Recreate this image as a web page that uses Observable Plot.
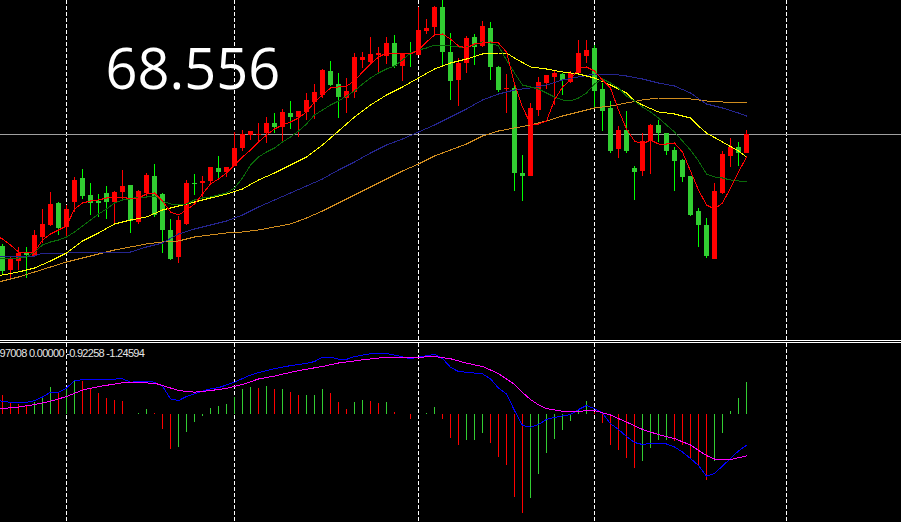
<!DOCTYPE html>
<html><head><meta charset="utf-8">
<script src="https://cdn.jsdelivr.net/npm/d3@7"></script>
<script src="https://cdn.jsdelivr.net/npm/@observablehq/plot@0.6"></script>
<style>
html,body{margin:0;padding:0;background:#000;overflow:hidden;}
#wrap{width:901px;height:522px;overflow:hidden;background:#000;}
.sep{height:1px;background:#000;border-top:1px solid #fff;border-bottom:1px solid #fff;}
.macd text{letter-spacing:-0.7px;}
svg{display:block;}
</style></head><body><div id="wrap"></div>
<script>
// ---- price candles (one per bar, index 0..93) ----
const open = [57.4,55.0,55.9,56.8,56.4,58.3,59.5,61.7,59.3,61.8, 64.2,62.5,61.9,62.7,61.8,62.8,63.5,59.8,62.7,64.4,
  62.6,59.0,56.3,59.6,63.7,63.7,63.9,65.2,64.8,65.4, 67.2,68.5,68.5,68.7,69.7,69.3,70.7,70.3,70.8,71.8,
  72.5,74.9,73.6,72.2,72.8,76.0,75.8,76.5,76.4,77.7, 75.4,76.7,76.5,78.9,79.3,81.3,76.8,74.0,75.7,78.3,
  77.4,79.2,75.3,73.1,73.2,64.7,64.4,71.0,73.7,74.3, 74.6,73.8,74.7,76.4,77.2,73.1,71.2,67.1,69.0,65.2,
  64.9,67.9,69.5,68.7,67.0,66.0,64.4,60.9,59.5,56.1, 62.7,66.4,67.3,66.7];
const close = [54.9,56.1,56.7,56.5,58.5,59.6,61.6,59.2,61.1,64.0, 62.4,61.7,61.7,61.8,62.8,63.4,59.9,62.9,64.5,60.5,
  59.0,56.1,60.0,63.7,63.6,63.9,65.3,64.8,65.3,67.2, 68.6,68.9,68.6,69.7,69.3,70.8,70.3,70.9,72.0,72.8,
  75.0,73.5,72.3,72.9,76.3,76.3,76.6,76.7,77.7,75.4, 76.6,76.6,79.0,79.2,81.3,76.8,73.9,75.7,78.2,77.3,
  79.4,75.3,73.0,73.2,64.7,64.4,71.2,73.8,74.5,74.7, 74.0,74.7,76.7,77.0,72.9,70.9,66.9,69.0,66.9,64.8,
  67.9,69.5,68.7,66.9,65.9,64.3,60.5,59.5,56.4,62.9, 66.6,67.3,66.7,68.55];
const high = [57.6,56.4,57.3,57.3,59.0,61.1,62.8,61.8,61.5,64.3, 65.1,63.7,62.6,63.4,62.9,65.0,63.5,63.0,64.7,65.6,
  62.7,60.1,60.4,64.0,64.6,64.4,65.3,66.4,65.3,68.8, 69.0,68.9,69.7,70.3,70.7,71.1,71.9,70.9,72.7,73.6,
  75.1,75.9,74.7,74.2,76.7,76.8,78.3,77.3,78.3,78.5, 76.7,77.8,81.3,80.1,81.4,82.0,78.7,76.2,78.4,78.6,
  79.9,79.8,75.4,74.6,73.4,66.5,71.7,74.3,74.5,74.9, 74.7,74.9,78.0,78.0,77.5,73.7,71.9,69.4,70.9,65.4,
  68.7,69.6,70.0,68.7,67.3,66.1,64.4,61.2,60.2,63.7, 66.9,68.2,67.8,69.0];
const low = [54.5,54.1,55.0,54.2,56.3,57.7,59.4,58.5,58.3,60.8, 62.1,60.5,60.3,60.1,59.6,62.0,58.7,59.6,62.2,60.3,
  56.7,56.0,55.7,59.5,62.5,62.3,63.5,64.0,64.3,65.4, 66.9,68.0,67.9,67.7,68.7,67.9,69.1,68.3,70.0,70.1,
  72.2,73.4,70.2,70.7,72.2,75.2,75.7,74.7,75.6,75.2, 73.9,75.3,76.5,78.6,78.6,75.4,72.0,71.4,74.7,75.5,
  77.3,74.0,72.8,70.7,62.9,61.9,64.4,70.4,73.1,71.5, 72.5,73.7,74.6,75.7,71.3,68.9,66.7,66.2,66.7,62.0,
  64.4,64.6,67.8,66.5,62.9,63.8,60.4,57.3,56.2,56.1, 62.6,65.3,65.4,66.7];

// ---- moving averages [bar index, value] ----
const maRed = [[-1,58.5],[0,58.1],[1,57.5],[2,56.8],[3,56.7],[4,56.8],[5,58.0],[6,58.6],[7,59.0],[8,59.4],[9,61.1],[10,61.7],[11,61.9],[12,62.0],[13,62.2],[14,62.3],[15,62.3],[16,62.1],[17,62.2],[18,62.6],[19,62.7],[20,61.9],[21,60.8],[22,60.5],[23,61.0],[24,61.6],[25,62.6],[26,63.6],[27,64.1],[28,64.7],[29,65.5],[30,66.3],[31,67.0],[32,67.8],[33,68.5],[34,69.1],[35,69.5],[36,69.8],[37,70.2],[38,70.8],[39,71.8],[40,72.5],[41,73.2],[42,73.3],[43,73.4],[44,73.9],[45,74.8],[46,75.6],[47,76.3],[48,76.7],[49,76.7],[50,76.7],[51,76.6],[52,77.0],[53,77.8],[54,78.5],[55,78.6],[56,78.1],[57,77.4],[58,77.2],[59,77.6],[60,77.7],[61,77.8],[62,77.7],[63,76.8],[64,73.6],[65,71.3],[66,69.6],[67,69.6],[68,69.9],[69,72.0],[70,73.3],[71,74.0],[72,75.2],[73,75.3],[74,74.9],[75,74.0],[76,73.2],[77,71.0],[78,69.1],[79,67.9],[80,67.6],[81,68.0],[82,67.6],[83,67.6],[84,67.7],[85,66.8],[86,64.9],[87,63.0],[88,61.5],[89,61.1],[90,61.7],[91,63.2],[92,64.8],[93,66.3]];
const maGreen = [[-1,56.2],[0,56.2],[1,56.2],[2,56.2],[3,56.3],[4,56.8],[5,57.5],[6,57.8],[7,58.0],[8,58.3],[9,58.8],[10,59.4],[11,60.0],[12,60.6],[13,61.1],[14,61.7],[15,62.0],[16,62.1],[17,62.3],[18,62.3],[19,62.4],[20,61.9],[21,61.6],[22,61.5],[23,61.6],[24,62.0],[25,62.2],[26,62.3],[27,62.5],[28,62.7],[29,63.2],[30,64.2],[31,65.5],[32,66.3],[33,66.8],[34,67.2],[35,67.8],[36,68.3],[37,68.9],[38,69.6],[39,70.5],[40,71.0],[41,71.5],[42,71.9],[43,72.4],[44,72.9],[45,73.6],[46,74.2],[47,74.7],[48,75.1],[49,75.4],[50,76.0],[51,76.7],[52,77.0],[53,77.2],[54,77.5],[55,77.5],[56,77.4],[57,77.3],[58,77.3],[59,77.5],[60,77.8],[61,77.7],[62,77.4],[63,76.0],[64,74.7],[65,73.5],[66,73.3],[67,73.1],[68,72.7],[69,72.3],[70,72.0],[71,71.9],[72,72.2],[73,72.7],[74,73.6],[75,74.1],[76,73.7],[77,73.2],[78,72.4],[79,71.9],[80,71.3],[81,70.8],[82,70.2],[83,69.5],[84,68.8],[85,67.9],[86,67.0],[87,65.9],[88,64.6],[89,64.3],[90,64.2],[91,64.0],[92,63.9],[93,63.8]];
const maYellow = [[-1,54.4],[0,54.5],[2,54.8],[4,55.2],[6,55.9],[8,56.7],[10,57.9],[12,58.7],[14,59.6],[16,60.0],[18,60.3],[20,61.0],[22,61.4],[24,61.8],[26,62.2],[28,62.6],[30,63.1],[32,64.0],[34,64.7],[36,65.5],[38,66.3],[40,67.5],[42,68.9],[44,70.3],[46,71.5],[48,72.5],[50,73.3],[52,74.2],[54,75.1],[56,75.7],[58,76.1],[60,76.6],[62,76.7],[63,76.7],[64,76.2],[66,75.3],[68,75.1],[70,74.8],[72,74.6],[74,74.2],[76,73.5],[78,72.7],[79,71.9],[80,71.5],[82,70.8],[84,70.6],[86,70.2],[87,69.4],[88,68.7],[90,67.8],[92,66.9],[93,66.3]];
const maNavy = [[-1,56.4],[0,56.4],[4,56.4],[5,56.7],[8,56.7],[12,56.8],[16,56.8],[18,57.3],[20,57.7],[22,58.6],[24,59.1],[26,59.5],[28,59.9],[30,60.5],[32,61.3],[34,62.0],[36,62.7],[38,63.4],[40,64.1],[42,65.0],[44,65.8],[46,66.7],[48,67.5],[50,68.1],[52,68.8],[54,69.5],[56,70.3],[58,71.1],[60,72.0],[62,72.6],[64,73.0],[66,73.2],[68,73.5],[70,74.0],[72,74.3],[74,74.6],[76,74.6],[78,74.4],[80,74.1],[82,73.7],[84,73.4],[86,72.7],[88,71.6],[90,71.2],[92,70.7],[93,70.4]];
const maOrange = [[-1,53.6],[0,53.9],[2,54.3],[4,54.8],[6,55.3],[8,55.8],[10,56.2],[12,56.6],[14,57.0],[16,57.3],[18,57.6],[20,57.8],[22,57.9],[24,58.3],[26,58.5],[28,58.7],[30,58.8],[32,59.0],[34,59.3],[36,59.6],[38,60.2],[40,60.9],[42,61.7],[44,62.5],[46,63.3],[48,64.1],[50,64.9],[52,65.6],[54,66.4],[56,67.0],[58,67.6],[60,68.4],[62,68.9],[64,69.2],[66,69.5],[68,69.9],[70,70.4],[72,70.8],[74,71.2],[76,71.4],[78,71.7],[80,72.0],[82,72.2],[84,72.2],[86,72.1],[88,71.9],[90,71.8],[93,71.8]];

// ---- MACD panel ----
const hist = [0.585,0.355,0.31,0.28,0.385,0.535,0.84,0.69,0.79,1.04, 1.02,0.79,0.635,0.485,0.435,0.405,0.0,0.03,0.16,0.05,
  -0.445,-1.05,-1.0,-0.525,-0.225,-0.05,0.18,0.25,0.31,0.535, 0.765,0.82,0.81,0.86,0.765,0.77,0.685,0.585,0.59,0.595,
  0.765,0.645,0.38,0.16,0.38,0.435,0.405,0.34,0.375,0.07, 0.02,-0.135,0.02,0.025,0.22,-0.135,-0.71,-0.93,-0.78,-0.775,
  -0.56,-0.86,-1.285,-1.535,-2.5,-3.0,-2.525,-1.81,-1.165,-0.74, -0.475,-0.195,0.13,0.405,0.08,-0.255,-0.93,-1.08,-1.315,-1.62,
  -1.405,-1.01,-0.78,-0.775,-0.81,-0.93,-1.335,-1.565,-1.99,-1.405, -0.56,0.10,0.485,0.97008];
const histUp = [0,0,0,0,1,1,1,0,1,1, 0,0,0,0,0,0,0,1,1,0, 0,0,1,1,1,1,1,1,1,1, 1,1,0,1,0,1,0,0,1,1,
  1,0,0,0,1,1,0,0,1,0, 0,0,1,1,1,0,0,0,1,1, 1,0,0,0,0,0,1,1,1,1, 1,1,1,1,0,0,0,0,0,0, 1,1,1,1,0,0,0,0,0,1, 1,1,1,1];
const macdLine = [[-1,0.45],[0,0.41],[1,0.38],[3,0.38],[4,0.43],[5,0.54],[6,0.685],[7,0.685],[8,0.81],[9,1.04],[10,1.06],[15,1.09],[16,0.99],[18,1.02],[19,0.99],[20,0.87],[21,0.485],[22,0.43],[23,0.555],[24,0.635],[26,0.79],[27,0.82],[29,0.99],[31,1.205],[32,1.28],[34,1.40],[36,1.49],[37,1.525],[38,1.555],[39,1.615],[40,1.745],[41,1.745],[42,1.69],[43,1.68],[44,1.765],[46,1.85],[48,1.86],[49,1.81],[51,1.70],[52,1.75],[54,1.83],[55,1.705],[56,1.44],[57,1.31],[58,1.29],[60,1.24],[61,1.09],[62,0.81],[63,0.635],[64,0.13],[65,-0.325],[66,-0.375],[67,-0.295],[68,-0.14],[69,-0.08],[70,-0.035],[71,0.01],[72,0.16],[73,0.28],[74,0.19],[75,0.055],[76,-0.27],[77,-0.445],[78,-0.66],[79,-0.84],[80,-0.90],[81,-0.87],[83,-0.885],[84,-0.975],[85,-1.13],[86,-1.325],[87,-1.535],[88,-1.86],[89,-1.78],[90,-1.55],[91,-1.325],[92,-1.095],[93,-0.92258]];
const signalLine = [[-1,0.17],[0,0.19],[2,0.235],[4,0.31],[6,0.41],[8,0.555],[10,0.75],[12,0.855],[15,0.97],[17,0.97],[19,0.96],[20,0.89],[22,0.735],[24,0.685],[26,0.735],[28,0.80],[30,0.92],[32,1.085],[34,1.175],[37,1.34],[40,1.465],[42,1.57],[45,1.665],[48,1.745],[52,1.745],[54,1.765],[56,1.70],[58,1.565],[60,1.465],[62,1.25],[64,0.92],[65,0.675],[66,0.465],[67,0.30],[68,0.19],[70,0.105],[72,0.11],[74,0.13],[76,-0.005],[78,-0.22],[80,-0.445],[82,-0.60],[84,-0.72],[86,-0.915],[88,-1.235],[89,-1.34],[91,-1.355],[93,-1.24594]];

// ---- annotations ----
const separators = [8, 29, 52, 74, 98];
const priceLine = 68.556;
const bigLabel = "68.556";
const macdLabel = "97008 0.00000 -0.92258 -1.24594";

const xDomain = [-0.25, 112.375];
const candles = open.map((o, i) => ({i, open: o, high: high[i], low: low[i], close: close[i], up: close[i] > o}));
const bars = hist.map((v, i) => ({i, v, up: histUp[i] === 1}));
const crisp = {strokeWidth: 1, shapeRendering: "crispEdges"};

const main = Plot.plot({
  width: 901, height: 340, margin: 0,
  style: {background: "#000", color: "#fff", overflow: "hidden"},
  x: {domain: xDomain, axis: null},
  y: {domain: [48, 82], range: [339.5, -0.5], axis: null},
  marks: [
    Plot.ruleX(separators, {stroke: "#fff", strokeDasharray: "4,2", ...crisp}),
    Plot.ruleY([priceLine], {stroke: "#a0a0a0", ...crisp}),
    Plot.ruleX(candles, {x: "i", y1: "low", y2: "high", ...crisp, stroke: d => d.up ? "#ff0000" : "#00ff00"}),
    Plot.ruleX(candles, {x: "i", y1: "open", y2: "close", strokeWidth: 5, shapeRendering: "crispEdges", stroke: d => d.up ? "#ff0000" : "#32cd32"}),
    Plot.line(maOrange, {stroke: "#d08c1e", ...crisp}),
    Plot.line(maNavy, {stroke: "#25258f", ...crisp}),
    Plot.line(maYellow, {stroke: "#ffff00", ...crisp}),
    Plot.line(maGreen, {stroke: "#0a6a0a", ...crisp}),
    Plot.line(maRed, {stroke: "#ff0000", ...crisp}),
    Plot.text([bigLabel], {frameAnchor: "top-left", dx: 105, dy: 88, lineAnchor: "bottom", textAnchor: "start",
      fill: "#fff", fontSize: 56, fontFamily: "Open Sans"})
  ]
});

const macd = Plot.plot({
  width: 901, height: 179, margin: 0, className: "macd",
  style: {background: "#000", color: "#fff", overflow: "hidden"},
  x: {domain: xDomain, axis: null},
  y: {domain: [-3.264, 2.161], axis: null},
  marks: [
    Plot.ruleX(separators, {stroke: "#fff", strokeDasharray: "4,2", ...crisp}),
    Plot.ruleX(bars, {x: "i", y1: 0, y2: "v", ...crisp, stroke: d => d.up ? "#32cd32" : "#ff0000"}),
    Plot.line(macdLine, {stroke: "#0000ff", ...crisp}),
    Plot.line(signalLine, {stroke: "#ff00ff", ...crisp}),
    Plot.text([macdLabel], {frameAnchor: "top-left", dx: -1, dy: 13, lineAnchor: "bottom", textAnchor: "start",
      fill: "#e6e6e6", fontSize: 11, fontFamily: "Liberation Sans"})
  ]
});

const wrap = document.getElementById("wrap");
wrap.appendChild(main);
const sep = document.createElement("div");
sep.className = "sep";
wrap.appendChild(sep);
wrap.appendChild(macd);
</script>
</body></html>
